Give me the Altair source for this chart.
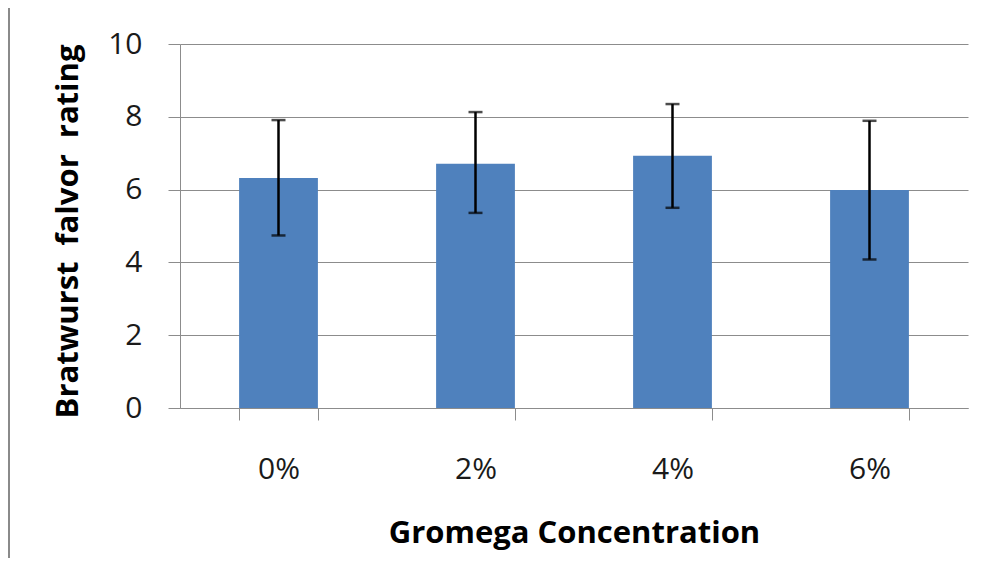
import altair as alt
import pandas as pd

categories = ["0%", "2%", "4%", "6%"]
means = [6.32, 6.71, 6.93, 5.99]
err_low = [4.74, 5.36, 5.50, 4.08]
err_high = [7.91, 8.13, 8.35, 7.89]

df = pd.DataFrame({"cat": categories, "mean": means, "lo": err_low, "hi": err_high})

FONT = "Open Sans"
GRAY = "#8c8c8c"

x_enc = alt.X("cat:N", sort=categories,
              scale=alt.Scale(paddingInner=0.6, paddingOuter=0.3),
              axis=alt.Axis(title="Gromega Concentration", labelAngle=0,
                            tickBand="extent", grid=False,
                            domainColor=GRAY, tickColor=GRAY, tickSize=12,
                            labelFont=FONT, labelFontSize=30, labelColor="#1a1a1a",
                            labelBaseline="middle", labelPadding=49,
                            titleFont=FONT, titleFontSize=31, titleFontWeight="bold",
                            titleColor="#000000", titleX=394, titleY=125,
                            titleBaseline="middle", titleAlign="center"))

y_scale = alt.Scale(domain=[0, 10])

bars = alt.Chart(df).mark_bar(color="#4f81bd").encode(
    x=x_enc,
    y=alt.Y("mean:Q", scale=y_scale,
            axis=alt.Axis(title="Bratwurst\u00a0\u00a0falvor\u00a0\u00a0rating", values=[0, 2, 4, 6, 8, 10],
                          grid=True, gridColor=GRAY, gridWidth=1,
                          domainColor=GRAY, tickColor=GRAY, tickSize=12,
                          labelFont=FONT, labelFontSize=30, labelColor="#1a1a1a",
                          labelPadding=26,
                          titleFont=FONT, titleFontSize=31, titleFontWeight="bold",
                          titleColor="#000000", titleAngle=-90, titleX=-112, titleY=187,
                          titleBaseline="middle", titleAlign="center")),
)

rules = alt.Chart(df).mark_rule(color="#000000", strokeWidth=2.5).encode(
    x=alt.X("cat:N", sort=categories),
    y=alt.Y("lo:Q", scale=y_scale),
    y2="hi:Q",
)

cap_lo = alt.Chart(df).mark_tick(color="#000000", orient="horizontal", size=14, thickness=2.5).encode(
    x=alt.X("cat:N", sort=categories), y=alt.Y("lo:Q", scale=y_scale))
cap_hi = alt.Chart(df).mark_tick(color="#000000", orient="horizontal", size=14, thickness=2.5).encode(
    x=alt.X("cat:N", sort=categories), y=alt.Y("hi:Q", scale=y_scale))

frame_left = alt.Chart(df).mark_rule(stroke="#8a8a8a", strokeWidth=2, clip=False).encode(
    x=alt.value(-171), y=alt.value(-36), y2=alt.value(514))

chart = alt.layer(bars, rules, cap_lo, cap_hi, frame_left).properties(
    width=788, height=364,
    autosize=alt.AutoSizeParams(type="none"),
    padding={"left": 172, "top": 36, "right": 8, "bottom": 150},
    background="white",
).configure_view(stroke=None)

chart.save("out.html", embed_options={"renderer": "svg", "actions": False})
